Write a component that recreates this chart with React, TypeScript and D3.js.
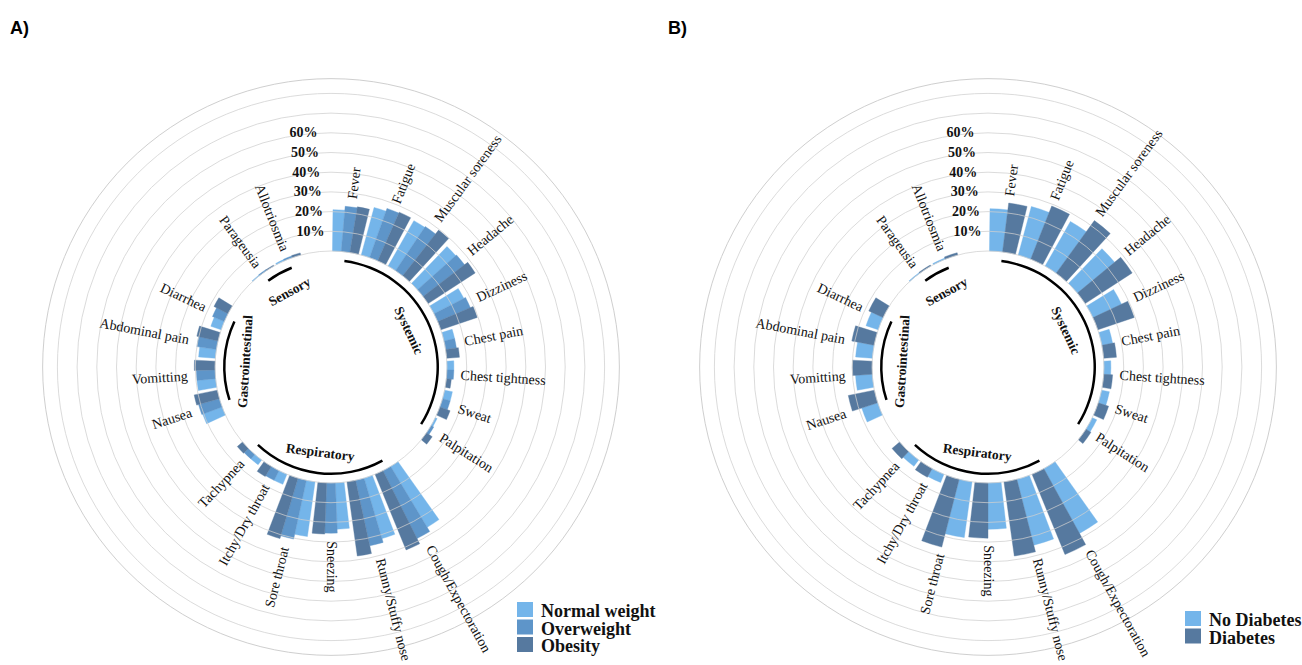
import React from "react";
import * as d3 from "d3";

// symptom groups, clockwise from 12 o'clock
const systemic = ["Fever", "Fatigue", "Muscular soreness", "Headache", "Dizziness", "Chest pain", "Chest tightness", "Sweat", "Palpitation"];
const respiratory = ["Cough/Expectoration", "Runny/Stuffy nose", "Sneezing", "Sore throat", "Itchy/Dry throat", "Tachypnea"];
const gastro = ["Nausea", "Vomitting", "Abdominal pain", "Diarrhea"];
const sensory = ["Parageusia", "Allotriosmia"];
const groupNames = ["Systemic", "Respiratory", "Gastrointestinal", "Sensory"];
const groups = [systemic, respiratory, gastro, sensory];

// panel A (%), same order as the symptoms above
const weightSeries = ["Normal weight", "Overweight", "Obesity"];
const normalWeight = [21, 25, 26.5, 26, 17, 5.5, 3.5, 4, 1, 36, 32, 23.5, 28, 5.5, 3, 10.5, 9.5, 8.5, 5.5, 0.4, 0.7];
const overweight = [23, 26.5, 27, 26.5, 18, 5.5, 3.5, 4, 1.5, 38.5, 34, 25.5, 30.5, 5.5, 3, 11, 9.5, 10, 6.5, 0.6, 0.9];
const obesity = [23.5, 27, 29.5, 28.5, 19.5, 6.5, 2.5, 5.5, 3.5, 41.5, 38, 26, 32, 6, 3.5, 12, 10.5, 11, 8, 0.5, 1.1];

// panel B (%)
const diabetesSeries = ["No Diabetes", "Diabetes"];
const noDiabetes = [21.5, 25.5, 26, 24.5, 16, 5.5, 3.5, 4, 2.5, 37.5, 34.5, 23.5, 28.5, 4.5, 4, 8.5, 8.5, 8.5, 6.5, 0.4, 0.6];
const diabetes = [25, 29, 33, 28.5, 19.5, 6.5, 4.5, 5.5, 3, 44, 38, 28, 35.5, 5, 5, 13.5, 10, 11.5, 8, 0.6, 1.2];

const tickValues = [10, 20, 30, 40, 50, 60];
const tickLabels = ["10%", "20%", "30%", "40%", "50%", "60%"];
const ringValues = [0, 10, 20, 30, 40, 50, 60, 70, 80];
const axisLimit = 87.5;

const LIGHT = "#74b5ea";
const MID = "#5e95c9";
const DARK = "#56799f";

const R0 = 116;
const STEP = 19.7; // px per 10%
const SERIF = "'Liberation Serif', 'Times New Roman', serif";

function Panel({ cx, cy, series, values, colors, letter, letterX, legendX, legendY }) {
    // slots: each group followed by one empty slot
    const slots: string[] = [];
    groups.forEach((g, i) => { g.forEach(s => slots.push(s)); slots.push("gap" + i); });
    const categories = groups.flat();

    const angle = d3.scaleBand<string>().domain(slots).range([0, 360]);
    const bw = angle.bandwidth();
    const inner = d3.scaleBand<string>().domain(series).range([bw * 0.05, bw * 0.95]);
    const r = d3.scaleLinear().domain([0, 10]).range([R0, R0 + STEP]);

    const mid = (c: string) => (angle(c) as number) + bw / 2;
    const toRad = (a: number) => a * Math.PI / 180;
    const arc = d3.arc();

    const bars = categories.flatMap((c, ci) => series.map((s, si) => {
        const a0 = (angle(c) as number) + (inner(s) as number);
        return {
            key: c + s, color: colors[si],
            d: arc({ innerRadius: r(0), outerRadius: r(values[si][ci]), startAngle: toRad(a0), endAngle: toRad(a0 + inner.bandwidth()) }) as string
        };
    }));

    return (
        <g>
            <text x={letterX} y={34} fontFamily="'Liberation Sans', Arial, sans-serif" fontWeight="bold" fontSize={18}>{letter}</text>
            <g transform={`translate(${cx},${cy})`}>
                {bars.map(b => <path key={b.key} d={b.d} fill={b.color} stroke={b.color} strokeWidth={0.4} />)}
                {ringValues.map(v => (
                    <circle key={v} r={r(v)} fill="none" stroke="#cfcfcf" strokeOpacity={0.75} strokeWidth={1} />
                ))}
                <circle r={r(axisLimit)} fill="none" stroke="#cfcfcf" strokeWidth={1} />
            </g>
            {tickValues.map((v, i) => (
                <text key={v} x={cx + 3 - r(v) * 0.07} y={cy - r(v)} textAnchor="end" dominantBaseline="central"
                    fontFamily={SERIF} fontWeight="bold" fontSize={14} fill="#111">{tickLabels[i]}</text>
            ))}
            {groups.map((g, gi) => {
                const a0 = mid(g[0]), a1 = mid(g[g.length - 1]);
                const am = (a0 + a1) / 2;
                const flip = am > 90 && am < 270;
                return (
                    <g key={groupNames[gi]}>
                        <path d={arc({ innerRadius: 105.5, outerRadius: 108, startAngle: toRad(a0), endAngle: toRad(a1) }) as string}
                            transform={`translate(${cx},${cy})`} fill="#000" />
                        <text transform={`translate(${cx},${cy}) rotate(${am - 90}) translate(86,0) rotate(${flip ? -90 : 90})`}
                            textAnchor="middle" dominantBaseline="central" fontFamily={SERIF} fontWeight="bold" fontSize={13.5} fill="#111">
                            {groupNames[gi]}
                        </text>
                    </g>
                );
            })}
            {categories.map((c, ci) => {
                const a = mid(c);
                const top = d3.max(values, (v: number[]) => v[ci]) as number;
                const rr = r(top) + 7;
                const right = a <= 180;
                return (
                    <text key={c} transform={`translate(${cx},${cy}) rotate(${right ? a - 90 : a + 90}) translate(${right ? rr : -rr},0)`}
                        textAnchor={right ? "start" : "end"} dominantBaseline="central" fontFamily={SERIF} fontSize={14} fill="#111">{c}</text>
                );
            })}
            {series.map((s, si) => (
                <g key={s} transform={`translate(${legendX},${legendY + si * 17.5})`}>
                    <rect x={0} y={0} width={16} height={15} fill={colors[si]} />
                    <text x={24} y={15} fontFamily={SERIF} fontWeight="bold" fontSize={18} fill="#111">{s}</text>
                </g>
            ))}
        </g>
    );
}

export default function App() {
    return (
        <div style={{ position: "absolute", left: 0, top: 0 }}>
            <svg width={1302} height={665} style={{ display: "block", background: "#fff" }}>
                <Panel cx={331} cy={367} series={weightSeries} values={[normalWeight, overweight, obesity]}
                    colors={[LIGHT, MID, DARK]} letter="A)" letterX={10} legendX={517} legendY={602} />
                <Panel cx={988} cy={367} series={diabetesSeries} values={[noDiabetes, diabetes]}
                    colors={[LIGHT, DARK]} letter="B)" letterX={668} legendX={1185} legendY={611} />
            </svg>
        </div>
    );
}
